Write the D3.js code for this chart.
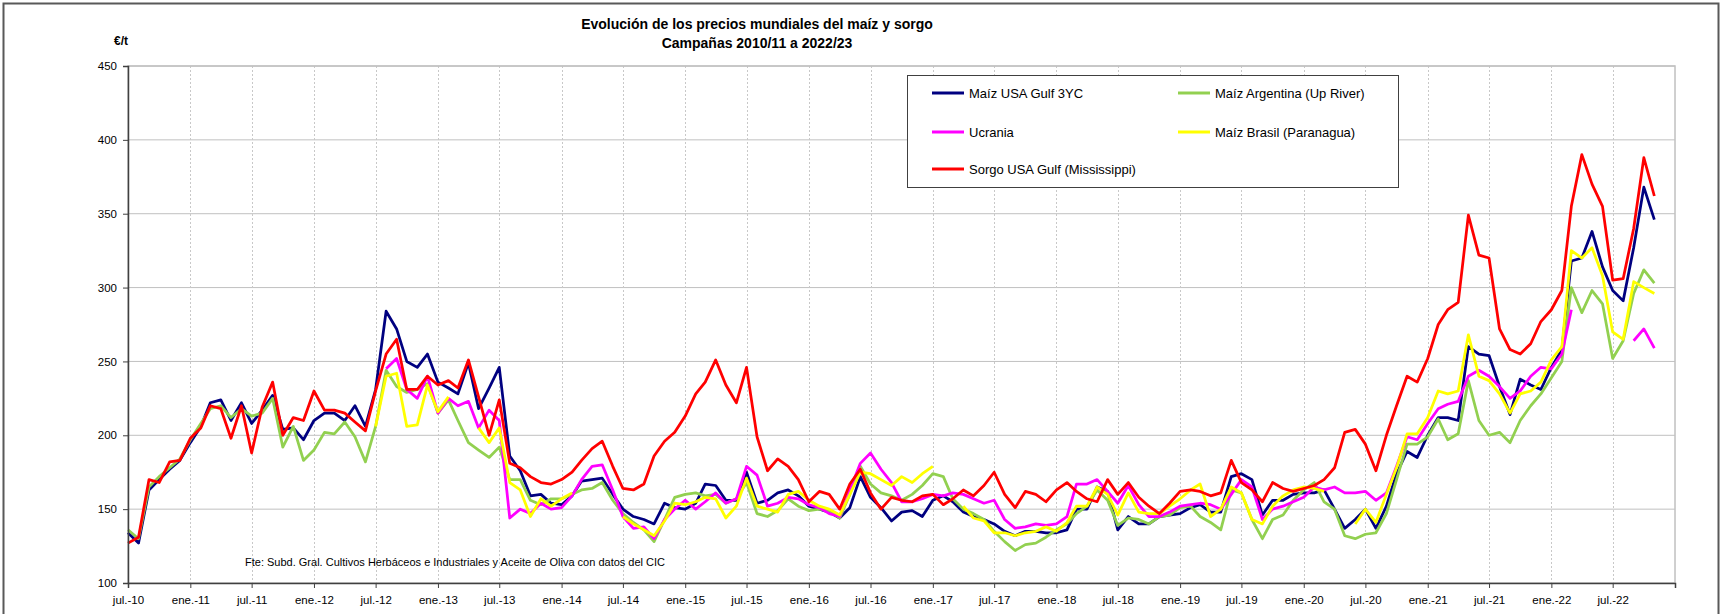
<!DOCTYPE html>
<meta charset="utf-8">
<html>
<head>
<style>
body {
  margin: 0;
  background: #fff;
  font-family: "Liberation Sans", Arial, Helvetica, sans-serif;
}
</style>
</head>
<body>

<div id="my_dataviz"></div>

<script src="https://d3js.org/d3.v7.min.js"></script>
<script>

// one reading per month, from jul.-10 to nov.-22 (null = no quote)
var months = d3.timeMonth.range(new Date(2010, 6, 1), new Date(2022, 11, 1));

var usaGulf = [
  134,127,163,170,177,183,
  195,206,222,224,210,222,208,217,227,204,205,197,
  210,215,215,210,220,206,231,284,272,250,246,255,
  236,232,228,249,218,232,246,186,176,159,160,154,
  153,159,169,170,171,160,150,145,143,140,154,151,
  150,154,167,166,156,156,175,154,156,161,163,159,
  152,150,148,144,151,172,158,151,142,148,149,145,
  156,159,155,148,145,143,140,135,132,135,135,134,
  134,136,150,150,165,162,136,145,140,140,145,146,
  147,151,153,148,148,172,174,170,146,156,156,160,
  161,161,163,150,137,143,150,137,152,174,189,185,
  200,212,212,210,260,255,254,233,214,238,234,231,
  246,258,318,320,338,314,298,291,327,368,346
];

var argentina = [
  136,130,165,172,178,184,
  197,208,218,220,212,218,213,215,225,192,206,183,
  190,202,201,209,199,182,206,244,233,229,231,235,
  215,224,210,195,190,185,192,170,170,156,153,157,
  157,160,163,164,168,156,147,141,136,128,143,158,
  160,161,159,160,154,157,168,147,145,149,157,152,
  149,150,149,144,160,179,167,161,159,156,160,166,
  174,172,157,150,147,143,135,128,122,126,127,131,
  136,140,147,152,163,156,139,144,143,140,145,146,
  151,152,145,141,136,163,161,143,130,143,146,156,
  163,168,155,150,132,130,133,134,147,170,194,194,
  199,211,197,201,237,210,200,202,195,210,220,228,
  239,250,300,283,298,289,252,264,296,312,303
];

var ucrania = [
  null,null,null,null,null,null,
  null,null,null,null,null,null,null,null,null,null,null,null,
  null,null,null,null,null,null,null,245,252,231,225,240,
  215,225,220,223,205,217,210,144,150,147,154,150,
  151,159,170,179,180,163,145,137,138,130,143,150,
  156,150,155,161,154,157,179,173,152,154,158,157,
  153,151,147,145,163,181,188,177,168,155,155,157,
  160,159,161,160,157,154,156,143,137,138,140,139,
  140,145,167,167,170,162,154,166,153,145,145,148,
  152,153,154,153,150,160,170,165,143,150,152,155,
  158,165,163,165,161,161,162,156,161,179,199,197,
  208,218,221,223,240,244,240,233,225,230,240,246,
  245,255,285,null,null,null,null,null,264,272,259
];

var brasil = [
  null,null,null,null,null,null,
  null,null,null,null,null,null,null,null,null,null,null,null,
  null,null,null,null,null,null,206,240,242,206,207,234,
  216,226,null,null,205,195,205,168,163,145,157,152,
  157,161,null,null,null,null,145,140,136,132,142,154,
  153,155,158,157,144,152,171,152,150,148,160,162,
  156,152,150,146,160,175,174,170,166,172,168,174,
  179,null,null,152,144,142,134,134,132,134,135,138,
  135,141,152,152,165,160,146,161,148,147,147,152,
  157,163,167,145,150,165,161,143,140,152,159,163,
  165,164,162,null,null,140,150,141,160,178,201,201,
  212,230,228,230,268,240,237,228,215,228,230,236,
  251,260,325,320,327,308,270,265,304,300,296
];

var sorgo = [
  127,131,170,168,182,183,
  198,205,220,218,198,220,188,219,236,200,212,210,
  230,217,217,215,209,203,230,255,265,231,231,240,
  234,237,232,251,226,200,224,181,178,172,168,167,
  170,175,183,191,196,179,164,163,167,186,196,202,
  213,228,236,251,234,222,246,199,176,184,179,170,
  155,162,160,150,167,177,161,150,158,156,155,159,
  160,153,157,163,159,166,175,160,151,162,160,155,
  163,168,162,157,155,170,160,168,158,152,147,154,
  162,163,162,159,161,183,168,163,155,168,164,162,
  164,166,170,178,202,204,194,176,200,220,240,236,
  252,275,285,290,349,322,320,272,258,255,262,277,
  285,298,355,390,370,355,305,306,340,388,362
];

var seriesNames = ["Maíz USA Gulf 3YC", "Maíz Argentina (Up River)", "Ucrania",
                   "Maíz Brasil (Paranagua)", "Sorgo USA Gulf (Mississippi)"];
var seriesValues = [usaGulf, argentina, ucrania, brasil, sorgo];
var seriesColors = ["#000080", "#92d050", "#ff00ff", "#ffff00", "#ff0000"];

var xTickLabels = ["jul.-10","ene.-11","jul.-11","ene.-12","jul.-12","ene.-13","jul.-13",
  "ene.-14","jul.-14","ene.-15","jul.-15","ene.-16","jul.-16","ene.-17","jul.-17",
  "ene.-18","jul.-18","ene.-19","jul.-19","ene.-20","jul.-20","ene.-21","jul.-21",
  "ene.-22","jul.-22"];
var yTicks = [100, 150, 200, 250, 300, 350, 400, 450];

// page size and plot area
var W = 1721, H = 614;
var plot = {left: 128, right: 1675, top: 66, bottom: 583};

var svg = d3.select("#my_dataviz")
  .append("svg")
    .attr("width", W)
    .attr("height", H)
    .style("display", "block");

// chart frame
svg.append("rect")
  .attr("x", 3.5).attr("y", 3.5)
  .attr("width", 1715).attr("height", 640)
  .attr("fill", "#fff")
  .attr("stroke", "#595959")
  .attr("stroke-width", 2);

var x = d3.scaleTime()
  .domain([new Date(2010, 6, 1), new Date(2023, 0, 1)])
  .range([plot.left, plot.right]);

var y = d3.scaleLinear()
  .domain([100, 450])
  .range([plot.bottom, plot.top]);

var xTickDates = xTickLabels.map(function(d, i) { return new Date(2010, 6 + 6 * i, 1); });

// gridlines
svg.append("g")
  .selectAll("line")
  .data(yTicks.slice(1))
  .enter()
  .append("line")
    .attr("x1", plot.left).attr("x2", plot.right)
    .attr("y1", function(d) { return y(d); })
    .attr("y2", function(d) { return y(d); })
    .attr("stroke", "#c0c0c0")
    .attr("stroke-width", 1);

svg.append("g")
  .selectAll("line")
  .data(xTickDates.slice(1))
  .enter()
  .append("line")
    .attr("x1", function(d) { return Math.round(x(d)) + 0.5; })
    .attr("x2", function(d) { return Math.round(x(d)) + 0.5; })
    .attr("y1", plot.top).attr("y2", plot.bottom)
    .attr("stroke", "#c8c8c8")
    .attr("stroke-width", 1)
    .attr("stroke-dasharray", "2,2");

// plot area border
svg.append("rect")
  .attr("x", plot.left).attr("y", plot.top)
  .attr("width", plot.right - plot.left)
  .attr("height", plot.bottom - plot.top)
  .attr("fill", "none")
  .attr("stroke", "#c0c0c0")
  .attr("stroke-width", 1.5);

// lines
var line = d3.line()
  .defined(function(d) { return d != null; })
  .x(function(d, i) { return x(months[i]); })
  .y(function(d) { return y(d); });

svg.append("g")
  .selectAll("path")
  .data(seriesValues)
  .enter()
  .append("path")
    .attr("d", line)
    .attr("fill", "none")
    .attr("stroke", function(d, i) { return seriesColors[i]; })
    .attr("stroke-width", 2.75)
    .attr("stroke-linejoin", "round");

// axes
var yAxis = svg.append("g")
  .attr("transform", "translate(" + plot.left + ",0)")
  .call(d3.axisLeft(y).tickValues(yTicks).tickSize(5).tickPadding(6));

var xAxis = svg.append("g")
  .attr("transform", "translate(0," + plot.bottom + ")")
  .call(d3.axisBottom(x).tickValues(xTickDates)
    .tickFormat(function(d, i) { return xTickLabels[i]; })
    .tickSize(5).tickPadding(8));

[yAxis, xAxis].forEach(function(a) {
  a.select(".domain").attr("stroke", "#404040").attr("stroke-width", 1.5);
  a.selectAll(".tick line").attr("stroke", "#404040");
  a.selectAll("text")
    .attr("fill", "#000")
    .style("font-family", "'Liberation Sans', Arial, sans-serif")
    .style("font-size", "11.5px");
});

// titles
svg.append("text")
  .attr("x", 757).attr("y", 29)
  .attr("text-anchor", "middle")
  .style("font-size", "14px").style("font-weight", "bold")
  .text("Evolución de los precios mundiales del maíz y sorgo");

svg.append("text")
  .attr("x", 757).attr("y", 48)
  .attr("text-anchor", "middle")
  .style("font-size", "14px").style("font-weight", "bold")
  .text("Campañas 2010/11 a 2022/23");

svg.append("text")
  .attr("x", 128).attr("y", 45)
  .attr("text-anchor", "end")
  .style("font-size", "12px").style("font-weight", "bold")
  .text("€/t");

// source note
svg.append("text")
  .attr("x", 245).attr("y", 566)
  .style("font-size", "11px")
  .text("Fte: Subd. Gral. Cultivos Herbáceos e Industriales y Aceite de Oliva con datos del CIC");

// legend
svg.append("rect")
  .attr("x", 907.5).attr("y", 75.5)
  .attr("width", 491).attr("height", 112)
  .attr("fill", "#fff")
  .attr("stroke", "#404040")
  .attr("stroke-width", 1);

var legendCols = [932, 1178];
var legendRows = [93, 132, 169];

var legend = svg.append("g")
  .selectAll("g")
  .data(seriesNames)
  .enter()
  .append("g")
    .attr("transform", function(d, i) {
      return "translate(" + legendCols[i % 2] + "," + legendRows[Math.floor(i / 2)] + ")";
    });

legend.append("line")
  .attr("x1", 0).attr("x2", 32)
  .attr("stroke", function(d, i) { return seriesColors[i]; })
  .attr("stroke-width", 3);

legend.append("text")
  .attr("x", 37)
  .attr("dy", "0.35em")
  .style("font-size", "13px")
  .text(function(d) { return d; });

</script>
</body>
</html>
